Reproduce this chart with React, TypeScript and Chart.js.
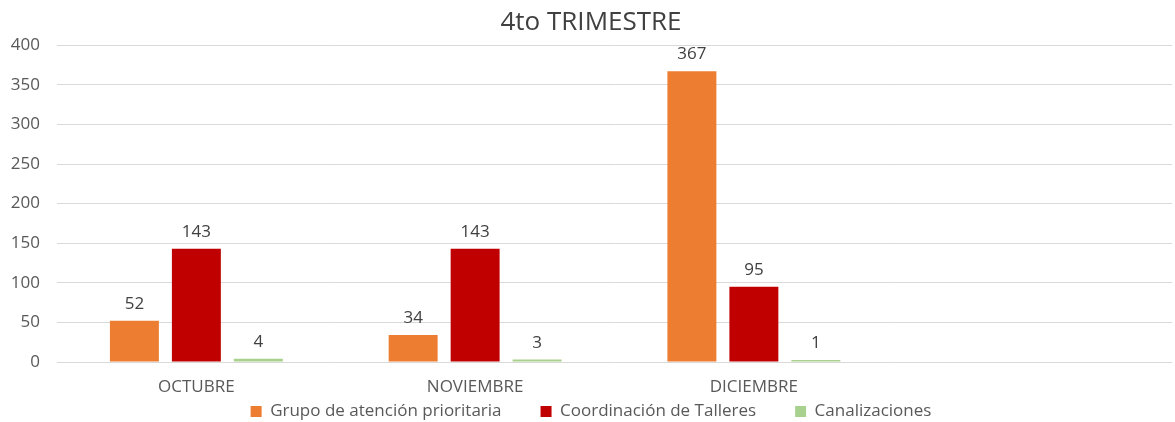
import React, { useEffect, useRef } from "react";
import { Chart, registerables } from "chart.js";

Chart.register(...registerables);

const categories = ["OCTUBRE", "NOVIEMBRE", "DICIEMBRE", ""];
const grupoAtencion = [52, 34, 367, null];
const coordinacionTalleres = [143, 143, 95, null];
const canalizaciones = [4, 3, 1, null];
const yTicks = [0, 50, 100, 150, 200, 250, 300, 350, 400];

const FONT = "'Open Sans', sans-serif";

const dataLabels = {
  id: "dataLabels",
  afterDatasetsDraw(chart: any) {
    const ctx = chart.ctx;
    ctx.save();
    ctx.font = `17px ${FONT}`;
    ctx.fillStyle = "#404040";
    ctx.textAlign = "center";
    ctx.textBaseline = "alphabetic";
    chart.data.datasets.forEach((ds: any, i: number) => {
      const meta = chart.getDatasetMeta(i);
      meta.data.forEach((bar: any, j: number) => {
        const v = ds.data[j];
        if (v === null || v === undefined) return;
        ctx.fillText(String(v), bar.x, bar.y - 12);
      });
    });
    ctx.restore();
  },
};

// lets the legend row sit just under the month labels, as in the reference
const legendPlacement = {
  id: "legendPlacement",
  afterLayout(chart: any) {
    const lg = chart.legend;
    if (!lg) return;
    lg.top = 364;
    lg.bottom = chart.height;
    lg.height = lg.bottom - lg.top;
  },
};

export default function App() {
  const ref = useRef<HTMLCanvasElement>(null);
  useEffect(() => {
    if (!ref.current) return;
    const chart = new Chart(ref.current, {
      type: "bar",
      data: {
        labels: categories,
        datasets: [
          { label: "Grupo de atención prioritaria", data: grupoAtencion, backgroundColor: "#ED7D31" },
          { label: "Coordinación de Talleres", data: coordinacionTalleres, backgroundColor: "#C00000" },
          { label: "Canalizaciones", data: canalizaciones, backgroundColor: "#A9D18E" },
        ],
      },
      options: {
        responsive: false,
        animation: false,
        layout: { padding: { left: 10, right: 3, top: 0, bottom: 0 } },
        datasets: { bar: { categoryPercentage: 0.667, barPercentage: 0.79, minBarLength: 2 } },
        plugins: {
          title: {
            display: true,
            text: "4to TRIMESTRE",
            color: "#404040",
            font: { family: FONT, size: 26, weight: "normal" },
            padding: { top: 7, bottom: 7 },
          },
          legend: {
            position: "bottom",
            maxHeight: 22,
            labels: {
              color: "#595959",
              font: { family: FONT, size: 17 },
              boxWidth: 11,
              boxHeight: 11,
              padding: 39,
            },
          },
          tooltip: { enabled: false },
        },
        scales: {
          x: {
            afterFit: (scale: any) => {
              scale.height = 38;
            },
            grid: { display: false, drawTicks: false },
            border: { display: false },
            ticks: { color: "#595959", font: { family: FONT, size: 17 }, padding: 15, autoSkip: false, maxRotation: 0 },
          },
          y: {
            min: 0,
            max: 400,
            afterBuildTicks: (scale: any) => {
              scale.ticks = yTicks.map((v) => ({ value: v }));
            },
            afterFit: (scale: any) => {
              scale.width = 47;
            },
            grid: { color: "#D9D9D9", drawTicks: false },
            border: { display: false },
            ticks: { color: "#595959", font: { family: FONT, size: 17 }, padding: 17 },
          },
        },
      },
      plugins: [dataLabels, legendPlacement],
    });
    return () => chart.destroy();
  }, []);
  return (
    <div style={{ position: "fixed", left: 0, top: 0, width: 1175, height: 422, background: "#fff" }}>
      <canvas ref={ref} width={1175} height={422} />
    </div>
  );
}
